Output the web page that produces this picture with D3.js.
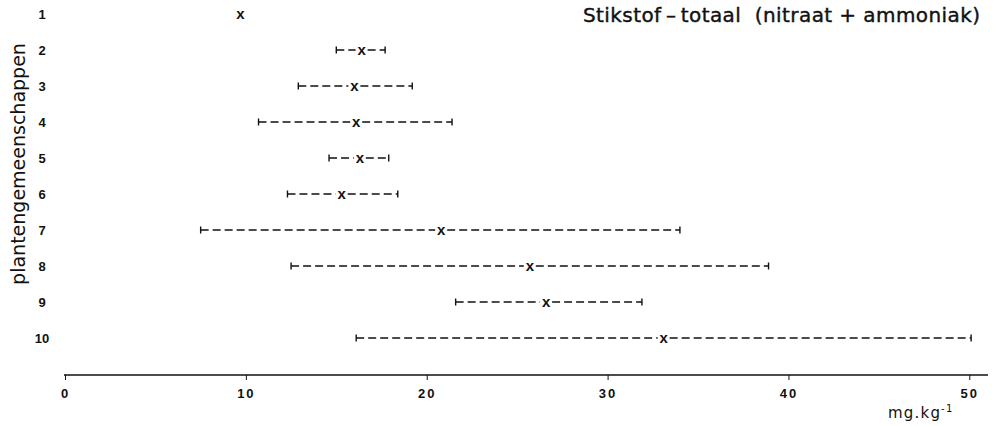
<!DOCTYPE html>
<html>
<head>
<meta charset="utf-8">
<script src="https://cdn.jsdelivr.net/npm/d3@7"></script>
<style>
  html, body { margin: 0; padding: 0; background: #fff; }
  svg { display: block; }
</style>
</head>
<body>
<svg id="chart" width="996" height="426"></svg>
<script>
// Plant communities (rows) and total nitrogen ranges, mg per kg
const communities = ["1", "2", "3", "4", "5", "6", "7", "8", "9", "10"];
const meanN = [9.7, 16.4, 16.0, 16.1, 16.3, 15.3, 20.8, 25.7, 26.6, 33.1];
const minN  = [null, 15.0, 12.9, 10.7, 14.6, 12.3, 7.5, 12.5, 21.6, 16.1];
const maxN  = [null, 17.7, 19.2, 21.4, 17.9, 18.4, 34.0, 38.9, 31.9, 50.1];
const xTicks = [0, 10, 20, 30, 40, 50];

const title = "Stikstof\u2009–\u2009totaal\u00a0\u00a0(nitraat + ammoniak)";
const yTitle = "plantengemeenschappen";

const rows = communities.map((c, i) => ({ c, mean: meanN[i], lo: minN[i], hi: maxN[i] }));

const svg = d3.select("#chart");
const ink = "#111";

const x = d3.scaleLinear().domain([0, 50]).range([65, 969.3]);
const y = d3.scalePoint().domain(communities).range([14, 338]);
const axisY = 375;

// x axis
const xAxis = d3.axisBottom(x).tickValues(xTicks).tickSize(5).tickSizeOuter(0);
const gx = svg.append("g").attr("transform", `translate(0,${axisY})`).call(xAxis);
gx.select(".domain").remove();
gx.append("line").attr("x1", 64).attr("x2", 988).attr("y1", 0).attr("y2", 0)
  .attr("stroke", ink).attr("stroke-width", 1.5);
gx.selectAll(".tick line").attr("stroke", ink).attr("stroke-width", 1);
gx.selectAll(".tick text")
  .attr("y", 14).attr("dy", "0.71em")
  .attr("fill", ink)
  .style("font-family", "'Liberation Sans', Arial, sans-serif")
  .style("font-weight", "bold").style("font-size", "13px")
  .style("letter-spacing", "2px");

// unit label
const unit = svg.append("text").attr("x", 888).attr("y", 418)
  .attr("fill", ink)
  .style("font-family", "'DejaVu Sans', sans-serif").style("font-size", "15px")
  .style("letter-spacing", "1.2px");
unit.append("tspan").text("mg.kg");
unit.append("tspan").attr("dy", -6).style("font-size", "10px").text("-1");

// row labels
svg.append("g").selectAll("text").data(rows).join("text")
  .attr("x", 42).attr("y", d => y(d.c)).attr("dy", "0.35em")
  .attr("text-anchor", "middle").attr("fill", ink)
  .style("font-family", "'Liberation Sans', Arial, sans-serif")
  .style("font-weight", "bold").style("font-size", "13px")
  .text(d => d.c);

// y axis title
svg.append("text")
  .attr("transform", `translate(25,164) rotate(-90)`)
  .attr("text-anchor", "middle").attr("fill", ink)
  .style("font-family", "'DejaVu Sans', sans-serif").style("font-size", "19px")
  .text(yTitle);

// chart title
svg.append("text").attr("x", 583).attr("y", 22)
  .attr("textLength", 397).attr("lengthAdjust", "spacing")
  .attr("fill", ink).attr("stroke", ink).attr("stroke-width", 0.4)
  .style("font-family", "'DejaVu Sans', sans-serif").style("font-size", "20px")
  .text(title);

// range bars
const bars = svg.append("g").selectAll("g").data(rows.filter(d => d.lo != null)).join("g");
const gap = 6;
bars.append("line")
  .attr("x1", d => x(d.lo)).attr("x2", d => x(d.mean) - gap)
  .attr("y1", d => y(d.c)).attr("y2", d => y(d.c));
bars.append("line")
  .attr("x1", d => x(d.mean) + gap).attr("x2", d => x(d.hi))
  .attr("y1", d => y(d.c)).attr("y2", d => y(d.c));
bars.selectAll("line")
  .attr("stroke", ink).attr("stroke-width", 1.3).attr("stroke-dasharray", "8,4");
bars.append("line")
  .attr("x1", d => x(d.lo)).attr("x2", d => x(d.lo))
  .attr("y1", d => y(d.c) - 3.5).attr("y2", d => y(d.c) + 3.5)
  .attr("stroke", ink).attr("stroke-width", 1.4);
bars.append("line")
  .attr("x1", d => x(d.hi)).attr("x2", d => x(d.hi))
  .attr("y1", d => y(d.c) - 3.5).attr("y2", d => y(d.c) + 3.5)
  .attr("stroke", ink).attr("stroke-width", 1.4);

// mean markers
svg.append("g").selectAll("text").data(rows).join("text")
  .attr("x", d => x(d.mean)).attr("y", d => y(d.c)).attr("dy", "0.33em")
  .attr("text-anchor", "middle").attr("fill", ink)
  .style("font-family", "'Liberation Sans', Arial, sans-serif")
  .style("font-weight", "bold").style("font-size", "15px")
  .text("x");
</script>
</body>
</html>
